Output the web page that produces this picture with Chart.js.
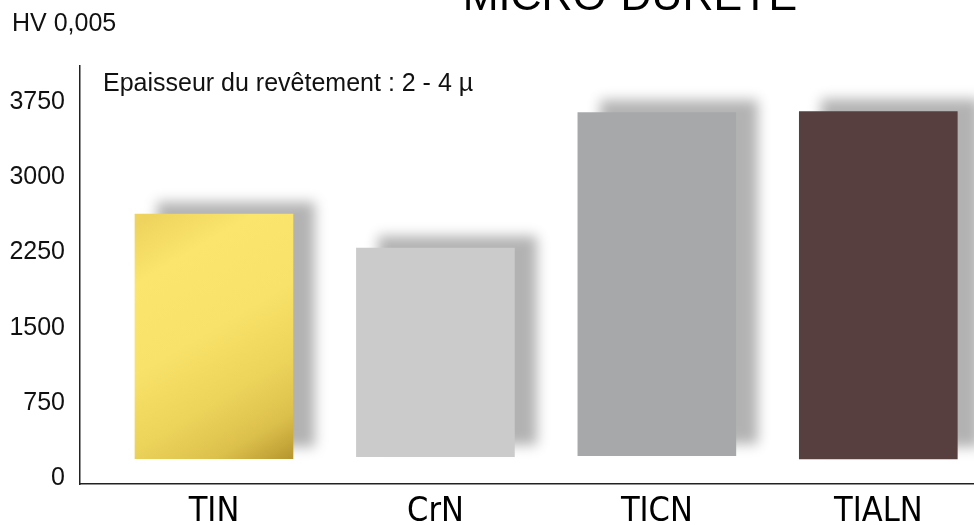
<!DOCTYPE html>
<html>
<head>
<meta charset="utf-8">
<script src="https://cdn.jsdelivr.net/npm/chart.js@4.4.1/dist/chart.umd.min.js"></script>
<style>
  html, body { margin: 0; padding: 0; background: #ffffff; overflow: hidden; }
  #wrap { position: relative; width: 1000px; height: 525px; }
</style>
</head>
<body>
<div id="wrap"><canvas id="chart" width="1000" height="525"></canvas></div>
<script>
// Coating types and their micro-hardness ranges (HV 0,005)
const categories = ['TIN', 'CrN', 'TICN', 'TIALN'];
const hardnessLow = [197, 217, 227, 194];
const hardnessHigh = [2632, 2294, 3642, 3652];
const yTicks = [0, 750, 1500, 2250, 3000, 3750];

const titleText = 'MICRO-DURETE';
const unitText = 'HV 0,005';
const noteText = 'Epaisseur du revêtement : 2 - 4 µ';

const barColors = ['#f3db62', '#cbcbcb', '#a7a8aa', '#573e3f'];

Chart.defaults.font.family = "'Liberation Sans', Arial, sans-serif";
Chart.defaults.color = '#111111';

// Golden metallic fill for the TIN bar
function goldFill(ctx) {
  const chart = ctx.chart;
  const xs = chart.scales.x, ys = chart.scales.y;
  if (!xs || !ys || !chart.chartArea) return barColors[0];
  const i = ctx.dataIndex;
  const cx = xs.getPixelForValue(i);
  const top = ys.getPixelForValue(hardnessHigh[i]);
  const bot = ys.getPixelForValue(hardnessLow[i]);
  if (!isFinite(cx) || !isFinite(top) || !isFinite(bot)) return barColors[0];
  const g = chart.ctx.createLinearGradient(cx - 60, top, cx + 85, bot);
  g.addColorStop(0.0, '#eed45e');
  g.addColorStop(0.18, '#fbe56c');
  g.addColorStop(0.45, '#f9e269');
  g.addColorStop(0.68, '#ecd35a');
  g.addColorStop(0.85, '#dcc04c');
  g.addColorStop(1.0, '#b3932c');
  return g;
}

// Soft drop shadow behind the bars
const barShadow = {
  id: 'barShadow',
  beforeDatasetsDraw(chart) {
    const c = chart.ctx;
    c.save();
    c.shadowColor = 'rgba(0,0,0,0.30)';
    c.shadowBlur = 12;
    c.shadowOffsetX = 22;
    c.shadowOffsetY = -12;
  },
  afterDatasetsDraw(chart) {
    chart.ctx.restore();
  }
};

// Heading, unit label and coating thickness note
const captions = {
  id: 'captions',
  afterDraw(chart) {
    const c = chart.ctx;
    const area = chart.chartArea;
    c.save();
    c.fillStyle = '#000000';
    c.textBaseline = 'alphabetic';

    c.font = "43px 'Liberation Sans', Arial, sans-serif";
    c.textAlign = 'center';
    c.fillText(titleText, 630, 10);

    c.font = "25px 'Liberation Sans', Arial, sans-serif";
    c.textAlign = 'left';
    c.fillStyle = '#111111';
    c.fillText(unitText, 12, 31);

    c.fillText(noteText, area.left + 23, 91);
    c.restore();
  }
};

new Chart(document.getElementById('chart'), {
  type: 'bar',
  data: {
    datasets: [{
      data: categories.map((_, i) => ({ x: i, y: [hardnessLow[i], hardnessHigh[i]] })),
      backgroundColor: ctx => ctx.dataIndex === 0 ? goldFill(ctx) : barColors[ctx.dataIndex],
      borderWidth: 0,
      borderSkipped: false,
      barThickness: 158
    }]
  },
  options: {
    responsive: false,
    devicePixelRatio: 1,
    animation: false,
    layout: { padding: { top: 66, right: 5, left: 0, bottom: 0 } },
    plugins: {
      legend: { display: false },
      title: { display: false },
      tooltip: { enabled: false }
    },
    scales: {
      x: {
        type: 'linear',
        offset: false,
        min: -0.605,
        max: 3.527,
        grid: { display: false, drawTicks: false, offset: false },
        border: { display: true, color: '#222222', width: 1.5 },
        ticks: {
          padding: 8,
          color: '#000000',
          autoSkip: false,
          maxRotation: 0,
          font: { family: "'Liberation Sans Narrow', 'DejaVu Sans Condensed', 'Liberation Sans', sans-serif", size: 34 },
          callback: v => categories[v] ?? ''
        },
        afterBuildTicks(scale) {
          scale.ticks = categories.map((_, i) => ({ value: i }));
        },
        afterFit(scale) { scale.height = 41; }
      },
      y: {
        min: -55,
        max: 4105,
        grid: { display: false, drawTicks: false },
        border: { display: true, color: '#222222', width: 1.5 },
        ticks: {
          padding: 15,
          color: '#111111',
          font: { size: 25 },
          callback: v => String(v)
        },
        afterBuildTicks(scale) {
          scale.ticks = yTicks.map(v => ({ value: v }));
        },
        afterFit(scale) { scale.width = 80; }
      }
    }
  },
  plugins: [barShadow, captions]
});
</script>
</body>
</html>
